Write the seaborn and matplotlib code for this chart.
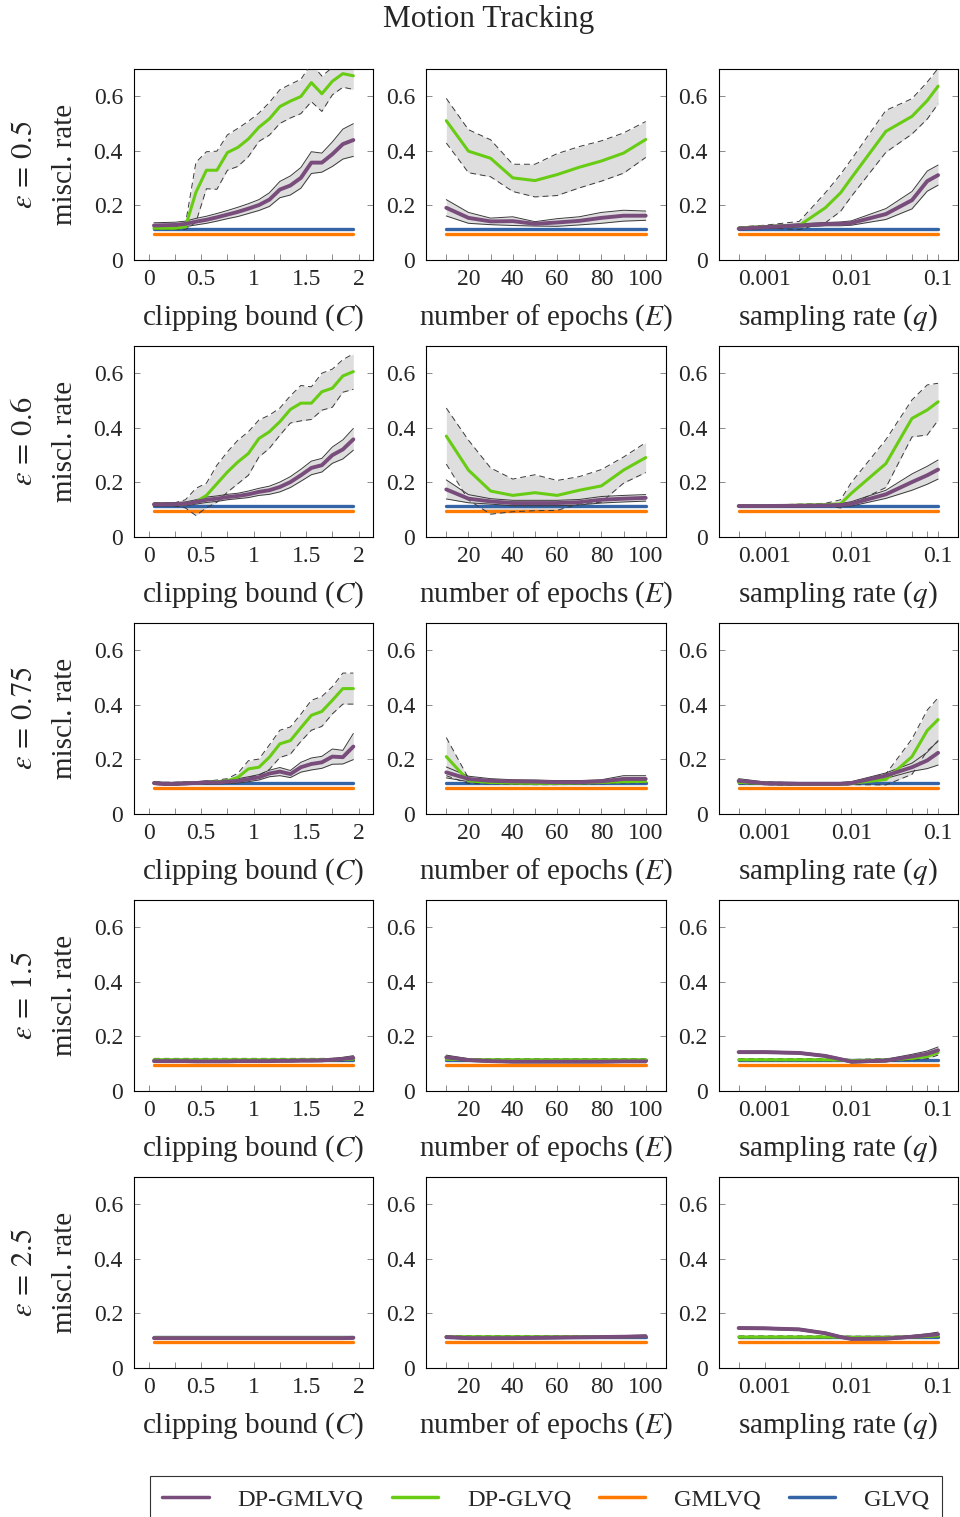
import matplotlib
matplotlib.use('Agg')
import matplotlib.pyplot as plt
import seaborn as sns
import numpy as np
from matplotlib.lines import Line2D
from matplotlib.ticker import NullLocator

EPSILONS = [0.5, 0.6, 0.75, 1.5, 2.5]
C_VALUES = [0.05, 0.15, 0.25, 0.35, 0.45, 0.55, 0.65, 0.75, 0.85, 0.95,
            1.05, 1.15, 1.25, 1.35, 1.45, 1.55, 1.65, 1.75, 1.85, 1.95]
E_VALUES = [10, 20, 30, 40, 50, 60, 70, 80, 90, 100]
Q_VALUES = [0.0005, 0.001, 0.0025, 0.005, 0.0075, 0.01, 0.025, 0.05, 0.075, 0.1]

# clipping bound sweep: mean and std per epsilon
DPGMLVQ_C = {
    0.5: [0.125, 0.126, 0.127, 0.131, 0.139, 0.146, 0.155, 0.165, 0.175, 0.187,
          0.2, 0.22, 0.257, 0.272, 0.3, 0.356, 0.356, 0.387, 0.424, 0.439],
    0.6: [0.118, 0.118, 0.119, 0.12, 0.127, 0.135, 0.139, 0.145, 0.149, 0.155,
          0.164, 0.17, 0.182, 0.2, 0.225, 0.252, 0.262, 0.299, 0.32, 0.357],
    0.75: [0.112, 0.109, 0.109, 0.111, 0.112, 0.114, 0.114, 0.117, 0.12, 0.126,
           0.133, 0.147, 0.154, 0.145, 0.17, 0.182, 0.188, 0.209, 0.207, 0.246],
    1.5: [0.108, 0.108, 0.108, 0.108, 0.107, 0.107, 0.107, 0.107, 0.108, 0.108,
          0.108, 0.108, 0.109, 0.109, 0.11, 0.11, 0.111, 0.113, 0.116, 0.12],
    2.5: [0.108, 0.108, 0.108, 0.108, 0.108, 0.108, 0.108, 0.108, 0.108, 0.108,
          0.108, 0.108, 0.108, 0.108, 0.108, 0.108, 0.108, 0.108, 0.108, 0.109],
}
DPGMLVQ_C_SD = {
    0.5: [0.01, 0.01, 0.01, 0.01, 0.012, 0.013, 0.014, 0.015, 0.017, 0.018,
          0.02, 0.025, 0.03, 0.035, 0.038, 0.04, 0.035, 0.045, 0.055, 0.06],
    0.6: [0.006, 0.006, 0.006, 0.007, 0.008, 0.01, 0.01, 0.01, 0.01, 0.012,
          0.013, 0.015, 0.018, 0.02, 0.022, 0.025, 0.025, 0.03, 0.035, 0.04],
    0.75: [0.005, 0.005, 0.005, 0.005, 0.005, 0.006, 0.006, 0.007, 0.008, 0.009,
           0.01, 0.012, 0.015, 0.013, 0.018, 0.022, 0.022, 0.028, 0.025, 0.048],
    1.5: [0.004, 0.004, 0.004, 0.004, 0.004, 0.004, 0.004, 0.004, 0.004, 0.004,
          0.004, 0.004, 0.004, 0.004, 0.004, 0.004, 0.005, 0.005, 0.006, 0.008],
    2.5: [0.004, 0.004, 0.004, 0.004, 0.004, 0.004, 0.004, 0.004, 0.004, 0.004,
          0.004, 0.004, 0.004, 0.004, 0.004, 0.004, 0.004, 0.004, 0.004, 0.004],
}
DPGLVQ_C = {
    0.5: [0.115, 0.115, 0.115, 0.12, 0.247, 0.328, 0.328, 0.393, 0.412, 0.443,
          0.486, 0.517, 0.562, 0.582, 0.599, 0.65, 0.609, 0.655, 0.683, 0.675],
    0.6: [0.118, 0.118, 0.118, 0.12, 0.127, 0.151, 0.194, 0.237, 0.274, 0.305,
          0.36, 0.385, 0.422, 0.467, 0.49, 0.49, 0.532, 0.545, 0.59, 0.606],
    0.75: [0.112, 0.11, 0.11, 0.111, 0.112, 0.114, 0.117, 0.12, 0.133, 0.164,
           0.17, 0.207, 0.256, 0.268, 0.315, 0.361, 0.375, 0.416, 0.459, 0.459],
    1.5: [0.113, 0.113, 0.113, 0.113, 0.113, 0.113, 0.113, 0.113, 0.113, 0.113,
          0.113, 0.113, 0.113, 0.113, 0.113, 0.113, 0.113, 0.113, 0.114, 0.115],
    2.5: [0.112, 0.112, 0.112, 0.112, 0.112, 0.112, 0.112, 0.112, 0.112, 0.112,
          0.112, 0.112, 0.112, 0.112, 0.112, 0.112, 0.112, 0.112, 0.112, 0.112],
}
DPGLVQ_C_SD = {
    0.5: [0.005, 0.005, 0.005, 0.01, 0.11, 0.068, 0.07, 0.065, 0.07, 0.065,
          0.052, 0.06, 0.062, 0.062, 0.063, 0.07, 0.065, 0.05, 0.05, 0.05],
    0.6: [0.005, 0.005, 0.006, 0.015, 0.05, 0.045, 0.068, 0.074, 0.08, 0.08,
          0.068, 0.061, 0.05, 0.05, 0.065, 0.06, 0.068, 0.07, 0.06, 0.065],
    0.75: [0.005, 0.005, 0.005, 0.005, 0.005, 0.005, 0.006, 0.008, 0.015, 0.03,
           0.03, 0.045, 0.05, 0.05, 0.05, 0.055, 0.055, 0.05, 0.057, 0.057],
    1.5: [0.005, 0.005, 0.005, 0.005, 0.005, 0.005, 0.005, 0.005, 0.005, 0.005,
          0.005, 0.005, 0.005, 0.005, 0.005, 0.005, 0.005, 0.005, 0.005, 0.005],
    2.5: [0.004, 0.004, 0.004, 0.004, 0.004, 0.004, 0.004, 0.004, 0.004, 0.004,
          0.004, 0.004, 0.004, 0.004, 0.004, 0.004, 0.004, 0.004, 0.004, 0.004],
}

# epochs sweep
DPGMLVQ_E = {
    0.5: [0.19, 0.153, 0.14, 0.141, 0.131, 0.136, 0.142, 0.153, 0.161, 0.161],
    0.6: [0.173, 0.139, 0.129, 0.123, 0.123, 0.123, 0.126, 0.135, 0.139, 0.142],
    0.75: [0.151, 0.127, 0.12, 0.118, 0.117, 0.115, 0.115, 0.118, 0.127, 0.127],
    1.5: [0.122, 0.112, 0.108, 0.106, 0.106, 0.106, 0.106, 0.106, 0.107, 0.107],
    2.5: [0.112, 0.108, 0.108, 0.108, 0.109, 0.11, 0.111, 0.112, 0.113, 0.115],
}
DPGMLVQ_E_SD = {
    0.5: [0.03, 0.02, 0.012, 0.016, 0.008, 0.014, 0.015, 0.02, 0.02, 0.017],
    0.6: [0.035, 0.015, 0.01, 0.01, 0.01, 0.01, 0.01, 0.012, 0.012, 0.012],
    0.75: [0.02, 0.01, 0.008, 0.006, 0.006, 0.006, 0.006, 0.006, 0.012, 0.012],
    1.5: [0.008, 0.005, 0.004, 0.004, 0.004, 0.004, 0.004, 0.004, 0.004, 0.004],
    2.5: [0.004, 0.004, 0.004, 0.004, 0.004, 0.004, 0.004, 0.004, 0.004, 0.004],
}
DPGLVQ_E = {
    0.5: [0.51, 0.398, 0.372, 0.3, 0.29, 0.312, 0.339, 0.362, 0.391, 0.441],
    0.6: [0.369, 0.244, 0.167, 0.151, 0.161, 0.151, 0.17, 0.186, 0.244, 0.29],
    0.75: [0.209, 0.12, 0.114, 0.112, 0.111, 0.111, 0.112, 0.114, 0.117, 0.118],
    1.5: [0.115, 0.113, 0.113, 0.113, 0.113, 0.113, 0.113, 0.113, 0.113, 0.113],
    2.5: [0.113, 0.113, 0.113, 0.113, 0.113, 0.113, 0.113, 0.113, 0.113, 0.114],
}
DPGLVQ_E_SD = {
    0.5: [0.082, 0.079, 0.068, 0.05, 0.06, 0.077, 0.076, 0.074, 0.074, 0.066],
    0.6: [0.103, 0.11, 0.085, 0.06, 0.066, 0.055, 0.05, 0.06, 0.048, 0.055],
    0.75: [0.07, 0.01, 0.005, 0.005, 0.005, 0.005, 0.005, 0.005, 0.005, 0.005],
    1.5: [0.004, 0.004, 0.004, 0.004, 0.004, 0.004, 0.004, 0.004, 0.004, 0.004],
    2.5: [0.004, 0.004, 0.004, 0.004, 0.004, 0.004, 0.004, 0.004, 0.004, 0.004],
}

# sampling rate sweep
DPGMLVQ_Q = {
    0.5: [0.113, 0.119, 0.125, 0.13, 0.131, 0.134, 0.167, 0.218, 0.288, 0.31],
    0.6: [0.112, 0.112, 0.113, 0.114, 0.116, 0.12, 0.155, 0.2, 0.225, 0.246],
    0.75: [0.12, 0.111, 0.109, 0.109, 0.109, 0.112, 0.139, 0.17, 0.195, 0.223],
    1.5: [0.141, 0.141, 0.138, 0.127, 0.115, 0.106, 0.11, 0.125, 0.135, 0.148],
    2.5: [0.145, 0.144, 0.14, 0.126, 0.112, 0.105, 0.106, 0.113, 0.118, 0.122],
}
DPGMLVQ_Q_SD = {
    0.5: [0.005, 0.005, 0.006, 0.006, 0.007, 0.008, 0.02, 0.032, 0.037, 0.037],
    0.6: [0.004, 0.004, 0.004, 0.004, 0.005, 0.008, 0.015, 0.03, 0.033, 0.035],
    0.75: [0.008, 0.005, 0.005, 0.005, 0.005, 0.005, 0.01, 0.015, 0.03, 0.045],
    1.5: [0.004, 0.004, 0.004, 0.004, 0.004, 0.005, 0.005, 0.008, 0.01, 0.012],
    2.5: [0.004, 0.004, 0.004, 0.004, 0.004, 0.004, 0.004, 0.005, 0.006, 0.008],
}
DPGLVQ_Q = {
    0.5: [0.115, 0.121, 0.125, 0.19, 0.245, 0.3, 0.471, 0.526, 0.584, 0.637],
    0.6: [0.112, 0.112, 0.115, 0.117, 0.12, 0.159, 0.268, 0.434, 0.465, 0.495],
    0.75: [0.114, 0.111, 0.108, 0.108, 0.108, 0.111, 0.125, 0.209, 0.305, 0.345],
    1.5: [0.113, 0.113, 0.113, 0.113, 0.112, 0.11, 0.112, 0.118, 0.125, 0.14],
    2.5: [0.112, 0.112, 0.112, 0.112, 0.112, 0.111, 0.111, 0.112, 0.114, 0.116],
}
DPGLVQ_Q_SD = {
    0.5: [0.005, 0.005, 0.015, 0.055, 0.068, 0.068, 0.077, 0.065, 0.068, 0.065],
    0.6: [0.003, 0.003, 0.004, 0.005, 0.015, 0.04, 0.088, 0.068, 0.092, 0.068],
    0.75: [0.005, 0.005, 0.005, 0.005, 0.005, 0.005, 0.02, 0.065, 0.075, 0.08],
    1.5: [0.004, 0.004, 0.004, 0.004, 0.004, 0.004, 0.005, 0.006, 0.008, 0.01],
    2.5: [0.004, 0.004, 0.004, 0.004, 0.004, 0.004, 0.004, 0.004, 0.004, 0.004],
}

# non-private baselines (flat)
GMLVQ_LEVEL = 0.094
GLVQ_LEVEL = 0.112

PURPLE = '#784d7c'
GREEN = '#69cc14'
ORANGE = '#ff7a00'
BLUE = '#3463a6'
FILL = '#dedede'
EDGE = '#3a3a3a'

sns.set_style('white')
plt.rcParams['font.family'] = ['Liberation Serif', 'DejaVu Serif']
plt.rcParams['mathtext.fontset'] = 'stix'

fig, axs = plt.subplots(5, 3, figsize=(9.6, 15.17), dpi=100)
fig.subplots_adjust(left=134 / 960, right=958 / 960, top=1 - 69 / 1517,
                    bottom=1 - 1367.5 / 1517, wspace=0.2218, hspace=0.454)


def draw_panel(ax, x, gm, gm_sd, gl, gl_sd):
    x = np.array(x)
    gm, gm_sd = np.array(gm), np.array(gm_sd)
    gl, gl_sd = np.array(gl), np.array(gl_sd)
    ax.fill_between(x, gl - gl_sd, gl + gl_sd, color=FILL, lw=0, zorder=1)
    ax.fill_between(x, gm - gm_sd, gm + gm_sd, color=FILL, lw=0, zorder=1)
    sns.lineplot(x=x, y=np.full(len(x), GMLVQ_LEVEL), color=ORANGE, lw=2.4,
                 ax=ax, zorder=2, estimator=None)
    sns.lineplot(x=x, y=np.full(len(x), GLVQ_LEVEL), color=BLUE, lw=2.4,
                 ax=ax, zorder=2, estimator=None)
    for sign in (-1, 1):
        sns.lineplot(x=x, y=gl + sign * gl_sd, color=EDGE, lw=0.7,
                     linestyle=(0, (6, 4)), ax=ax, zorder=3, estimator=None)
        sns.lineplot(x=x, y=gm + sign * gm_sd, color=EDGE, lw=0.7,
                     ax=ax, zorder=3, estimator=None)
    sns.lineplot(x=x, y=gl, color=GREEN, lw=2.2, ax=ax, zorder=4, estimator=None)
    sns.lineplot(x=x, y=gm, color=PURPLE, lw=2.8, ax=ax, zorder=4, estimator=None)


sweeps = [
    (C_VALUES, DPGMLVQ_C, DPGMLVQ_C_SD, DPGLVQ_C, DPGLVQ_C_SD, r'clipping bound ($C$)'),
    (E_VALUES, DPGMLVQ_E, DPGMLVQ_E_SD, DPGLVQ_E, DPGLVQ_E_SD, r'number of epochs ($E$)'),
    (Q_VALUES, DPGMLVQ_Q, DPGMLVQ_Q_SD, DPGLVQ_Q, DPGLVQ_Q_SD, r'sampling rate ($q$)'),
]

for r, eps in enumerate(EPSILONS):
    for c, (xs, gm, gm_sd, gl, gl_sd, xlabel) in enumerate(sweeps):
        ax = axs[r, c]
        if c == 2:
            ax.set_xscale('log')
        draw_panel(ax, xs, gm[eps], gm_sd[eps], gl[eps], gl_sd[eps])

        if c == 0:
            ticks = [0, 0.25, 0.5, 0.75, 1, 1.25, 1.5, 1.75, 2]
            labels = ['0', '', '0.5', '', '1', '', '1.5', '', '2']
            ax.set_xlim(-0.14, 2.14)
        elif c == 1:
            ticks = E_VALUES
            labels = ['' if t % 20 else str(t) for t in E_VALUES]
            ax.set_xlim(1, 109)
        else:
            ticks = Q_VALUES
            labels = ['0.001' if t == 0.001 else '0.01' if t == 0.01
                      else '0.1' if t == 0.1 else '' for t in Q_VALUES]
            ax.set_xlim(0.0005 / 10 ** 0.23, 0.1 * 10 ** 0.23)
            ax.xaxis.set_minor_locator(NullLocator())
        ax.set_xticks(ticks)
        ax.set_xticklabels(labels)

        ax.set_ylim(0, 0.7)
        ax.set_yticks([0, 0.2, 0.4, 0.6])
        ax.set_yticklabels(['0', '0.2', '0.4', '0.6'])
        ax.tick_params(axis='y', which='both', direction='in', left=True,
                       right=True, length=4.5, width=0.6, color='#777777',
                       labelsize=17, pad=8)
        ax.tick_params(axis='x', which='both', direction='in', bottom=True,
                       top=False, length=4.5, width=0.6, color='#777777',
                       labelsize=17, pad=7)
        for sp in ax.spines.values():
            sp.set_color('black')
            sp.set_linewidth(0.8)
        ax.set_xlabel(xlabel, fontsize=21, labelpad=9)
        ax.set_ylabel('')

        if c == 0:
            ax.text(-0.289, 0.5, 'miscl. rate', rotation=90, fontsize=21,
                    ha='center', va='center', transform=ax.transAxes)
            ax.text(-0.456, 0.5, rf'$\varepsilon\,=\,{eps}$', rotation=90,
                    fontsize=22, ha='center', va='center', transform=ax.transAxes)

fig.text(489 / 960, 1 - 19 / 1517, 'Motion Tracking', fontsize=22.5,
         ha='center', va='center')

handles = [Line2D([], [], color=PURPLE, lw=2.5),
           Line2D([], [], color=GREEN, lw=2.5),
           Line2D([], [], color=ORANGE, lw=2.5),
           Line2D([], [], color=BLUE, lw=2.5)]
leg = fig.legend(handles, ['DP-GMLVQ', 'DP-GLVQ', 'GMLVQ', 'GLVQ'],
                 loc='upper center', bbox_to_anchor=(546 / 960, 1 - 1476 / 1517),
                 ncol=4, fontsize=17.5, frameon=True, fancybox=False,
                 edgecolor='#333333', framealpha=1, handlelength=1.9,
                 handletextpad=1.2, columnspacing=1.15, borderpad=0.5,
                 borderaxespad=0)
leg.get_frame().set_linewidth(0.8)

fig.savefig('out.png', dpi=100)
